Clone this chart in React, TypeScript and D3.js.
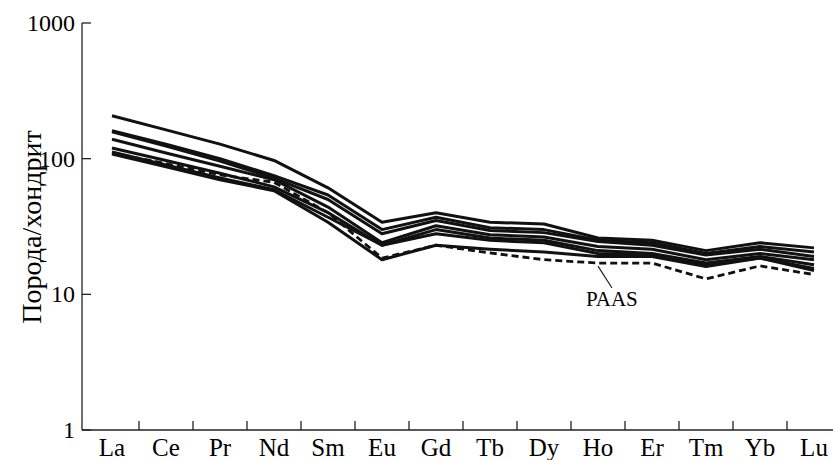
import React, { useEffect, useRef } from "react";
import * as d3 from "d3";

const elements = ["La", "Ce", "Pr", "Nd", "Sm", "Eu", "Gd", "Tb", "Dy", "Ho", "Er", "Tm", "Yb", "Lu"];
const yTicks = [1, 10, 100, 1000];

// rock / chondrite
const sample1 = [207, 163, 128, 97, 61, 34, 40, 34, 33, 26, 25, 21, 24, 22];
const sample2 = [161, 128, 100, 75, 54, 30, 37, 31, 30, 25, 24, 20, 22.5, 20.5];
const sample3 = [158, 124, 96, 72, 50, 28, 35, 29.5, 28.5, 24.5, 23, 19.5, 21.5, 19];
const sample4 = [139, 110, 88, 70, 44, 24, 32, 27.5, 26.5, 22.5, 21.5, 18, 20, 18];
const sample5 = [120, 97, 78, 62, 40, 23, 30, 26, 25, 21, 20, 17, 19, 16.5];
const sample6 = [112, 90, 72, 59, 37, 23, 28, 25, 24, 20, 19.5, 16.5, 18.5, 15.5];
const sample7 = [108, 87, 70, 58, 34, 18, 23, 21.5, 20.5, 19, 19, 16, 18.5, 15];
const paas = [110, 92, 76, 67, 40, 18.5, 23, 20.2, 18, 17, 17, 13, 16.2, 14];

const samples = [sample1, sample2, sample3, sample4, sample5, sample6, sample7];

const W = 833;
const H = 460;
const FONT = "'Times New Roman', 'Liberation Serif', 'DejaVu Serif', serif";

export default function App() {
  const ref = useRef<SVGSVGElement>(null);

  useEffect(() => {
    const svg = d3.select(ref.current);
    svg.selectAll("*").remove();

    const x = d3.scalePoint<string>().domain(elements).range([112, 814]);
    const y = d3.scaleLog().domain([1, 1000]).range([430, 23]);

    const line = d3
      .line<number>()
      .x((d, i) => x(elements[i]) as number)
      .y(d => y(d));

    // axes
    const ax = svg.append("g").attr("stroke", "#222").attr("stroke-width", 1.3);
    ax.append("line").attr("x1", 82).attr("x2", 82).attr("y1", y(1000)).attr("y2", y(1));
    ax.append("line").attr("x1", 82).attr("x2", W).attr("y1", y(1)).attr("y2", y(1));
    yTicks.forEach(t => {
      ax.append("line").attr("x1", 82).attr("x2", 91).attr("y1", y(t)).attr("y2", y(t));
    });
    const step = x.step();
    elements.slice(1).forEach(e => {
      const xx = (x(e) as number) - step / 2;
      ax.append("line").attr("x1", xx).attr("x2", xx).attr("y1", y(1)).attr("y2", y(1) - 9);
    });

    svg
      .append("g")
      .selectAll("text")
      .data(yTicks)
      .enter()
      .append("text")
      .attr("x", 75)
      .attr("y", d => y(d) + 8)
      .attr("text-anchor", "end")
      .style("font-family", FONT)
      .style("font-size", "24px")
      .text(d => String(d));

    svg
      .append("g")
      .selectAll("text")
      .data(elements)
      .enter()
      .append("text")
      .attr("x", d => x(d) as number)
      .attr("y", 456)
      .attr("text-anchor", "middle")
      .style("font-family", FONT)
      .style("font-size", "25px")
      .text(d => d);

    svg
      .append("text")
      .attr("transform", "translate(41,227) rotate(-90)")
      .attr("text-anchor", "middle")
      .style("font-family", FONT)
      .style("font-size", "28px")
      .text("Порода/хондрит");

    // sample lines
    svg
      .append("g")
      .selectAll("path")
      .data(samples)
      .enter()
      .append("path")
      .attr("d", d => line(d))
      .attr("fill", "none")
      .attr("stroke", "#111")
      .attr("stroke-width", 3)
      .attr("stroke-linejoin", "round");

    svg
      .append("path")
      .attr("d", line(paas))
      .attr("fill", "none")
      .attr("stroke", "#111")
      .attr("stroke-width", 2.8)
      .attr("stroke-dasharray", "7,4");

    // PAAS label
    svg
      .append("line")
      .attr("x1", 598)
      .attr("y1", y(paas[9]) + 3)
      .attr("x2", 612)
      .attr("y2", 288)
      .attr("stroke", "#222")
      .attr("stroke-width", 1.2);
    svg
      .append("text")
      .attr("x", 586)
      .attr("y", 306)
      .style("font-family", FONT)
      .style("font-size", "21px")
      .text("PAAS");
  }, []);

  return (
    <svg
      ref={ref}
      width={W}
      height={H}
      style={{ position: "absolute", left: 0, top: 0, background: "#fff" }}
    />
  );
}
